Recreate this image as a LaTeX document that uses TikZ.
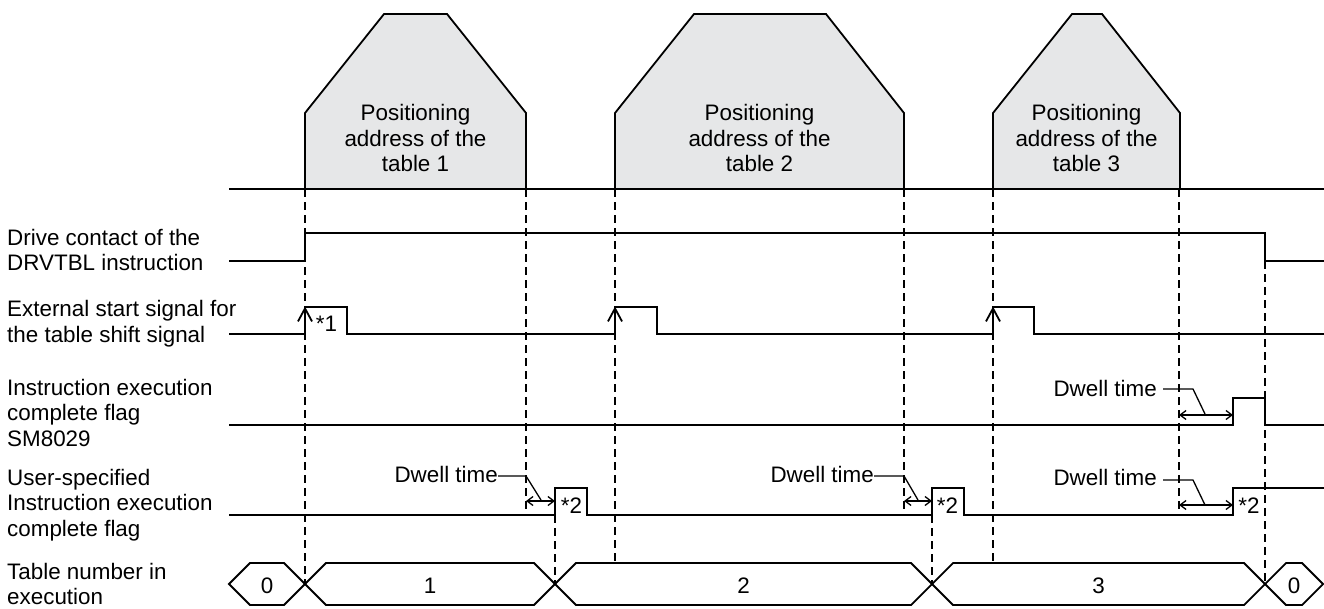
\documentclass[tikz,border=0pt]{standalone}
\usepackage{fontspec}
\setmainfont{Liberation Sans}
\usetikzlibrary{arrows.meta}

\definecolor{trapfill}{RGB}{230,231,232}

\tikzset{
  wave/.style={line width=1.8pt, line join=miter},
  guide/.style={line width=1.5pt, dash pattern=on 8pt off 5pt},
  leader/.style={line width=1.3pt},
  dwellarrow/.style={line width=1.3pt, {Straight Barb[length=6pt,width=9pt]}-{Straight Barb[length=6pt,width=9pt]}},
  startarrow/.style={line width=1.8pt, -{Straight Barb[length=13pt,width=14pt]}},
  txt/.style={inner sep=0pt, font=\fontsize{22.4}{25.5}\selectfont},
  sidelabel/.style={txt, anchor=north west, align=left},
  traplabel/.style={txt, anchor=north, align=center},
}

\begin{document}
\begin{tikzpicture}[x=1pt, y=-1pt, line cap=butt]

  %% ════ 定位轮廓（三个梯形）════
  \foreach \a/\b/\c/\d/\n in {305/384/447/526/1, 615/694/826/904/2, 993/1072/1102/1180/3}{
    \filldraw[wave, fill=trapfill] (\a,189) -- (\a,113) -- (\b,14) -- (\c,14) -- (\d,113) -- (\d,189);
    \node[traplabel] (pos\n) at ({(\a+\d)/2},104.2) {Positioning\\address of the\\table \n};
  }
  \draw[wave] (229,189) -- (1324,189);

  %% ════ 虚线（时刻对齐）════
  \draw[guide] (305,189) -- (305,584);
  \draw[guide] (526,189) -- (526,515);
  \draw[guide] (555,515) -- (555,584);
  \draw[guide] (615,189) -- (615,563);
  \draw[guide] (904,189) -- (904,515);
  \draw[guide] (932,515) -- (932,584);
  \draw[guide] (993,189) -- (993,563);
  \draw[guide] (1179,189) -- (1179,515);
  \draw[guide] (1265,261) -- (1265,584);

  %% ════ 信号波形 ════
  \draw[wave] (229,261) -| (305,233) -| (1265,261) -- (1324,261);
  \draw[wave] (229,334) -| (305,307) -| (347,334) -| (615,307) -| (657,334) -| (993,307) -| (1034,334) -- (1324,334);
  \foreach \x in {305,615,993}
    \draw[startarrow] (\x,334) -- (\x,306.5);
  \draw[wave] (229,425) -| (1233,398) -| (1265,425) -- (1324,425);
  \draw[wave] (229,515) -| (555,488) -| (587,515) -| (932,488) -| (964,515) -| (1233,488) -- (1324,488);

  %% ════ 表号总线 ════
  \foreach \l/\r/\v [count=\i] in {229/305/0, 305/555/1, 555/932/2, 932/1265/3, 1265/1323/0}{
    \draw[wave] (\l,584) -- (\l+21,563) -- (\r-21,563) -- (\r,584) -- (\r-21,605) -- (\l+21,605) -- cycle;
    \node[txt] (bus\i) at ({(\l+\r)/2},585.5) {\v};
  }

  %% ════ 驻留时间 ════
  \node[txt, anchor=east] (dwellA) at (498,474) {Dwell time};
  \draw[leader] ([yshift=-2pt]dwellA.east) -- (526,476) -- (541,500);
  \draw[dwellarrow] (526,501) -- (555,501);

  \node[txt, anchor=east] (dwellB) at (874,474) {Dwell time};
  \draw[leader] ([yshift=-2pt]dwellB.east) -- (904,476) -- (918,500);
  \draw[dwellarrow] (904,501) -- (932,501);

  \node[txt, anchor=east] (dwellC) at (1157,388.3) {Dwell time};
  \draw[leader] ([xshift=6pt,yshift=-0.7pt]dwellC.east) -- (1193,389) -- (1205,414);
  \draw[dwellarrow] (1179,415) -- (1233,415);

  \node[txt, anchor=east] (dwellD) at (1157,477) {Dwell time};
  \draw[leader] ([xshift=6pt,yshift=-3pt]dwellD.east) -- (1193,480) -- (1205,505);
  \draw[dwellarrow] (1179,505) -- (1233,505);

  %% ════ 注记 ════
  \node[txt] (noteA) at (326.5,324) {*1};
  \node[txt] (noteB) at (571.5,505.5) {*2};
  \node[txt] (noteC) at (947.5,505.5) {*2};
  \node[txt] (noteD) at (1249,505.5) {*2};

  %% ════ 左侧信号名 ════
  \node[sidelabel] (lblDrive) at (7,228.8) {Drive contact of the\\DRVTBL instruction};
  \node[sidelabel] (lblStart) at (7,300.3) {External start signal for\\the table shift signal};
  \node[sidelabel] (lblSM) at (7,378.8) {Instruction execution\\complete flag\\SM8029};
  \node[sidelabel] (lblUser) at (7,468.8) {User-specified\\Instruction execution\\complete flag};
  \node[sidelabel, font=\fontsize{22.4}{24.5}\selectfont] (lblTable) at (7,563.5) {Table number in\\execution};

  % 钉死画布
  \pgfresetboundingbox
  \path[use as bounding box] (0,0) rectangle (1324,608);
\end{tikzpicture}
\end{document}
